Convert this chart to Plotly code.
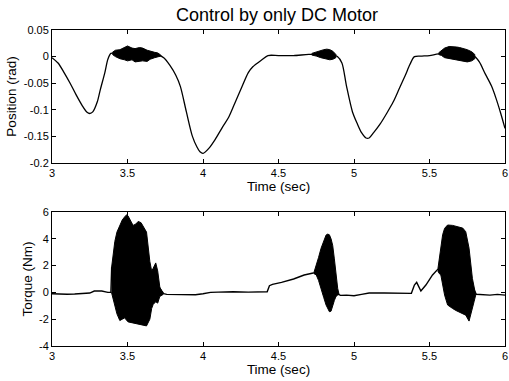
import plotly.graph_objects as go
from plotly.subplots import make_subplots

# ---------------- data ----------------
# Position (rad) main trace
pos_t = [3.00, 3.04, 3.08, 3.12, 3.16, 3.20, 3.23, 3.25, 3.27, 3.30, 3.32, 3.35, 3.37, 3.39,
         3.42, 3.50, 3.60, 3.70, 3.74, 3.78, 3.82, 3.85, 3.89, 3.93, 3.96, 3.98, 4.00, 4.04,
         4.08, 4.13, 4.17, 4.21, 4.25, 4.30, 4.33, 4.39, 4.43, 4.50, 4.60, 4.70, 4.78, 4.85,
         4.89, 4.92, 4.95, 4.99, 5.02, 5.05, 5.08, 5.10, 5.13, 5.17, 5.22, 5.26, 5.30, 5.34,
         5.37, 5.40, 5.45, 5.50, 5.56, 5.65, 5.75, 5.80, 5.83, 5.87, 5.91, 5.94, 5.97, 6.00]
pos_y = [-0.002, -0.012, -0.030, -0.050, -0.072, -0.092, -0.104, -0.107, -0.104, -0.085,
         -0.062, -0.030, -0.005, 0.006, 0.006, 0.006, 0.004, 0.003, -0.002, -0.016, -0.035,
         -0.056, -0.104, -0.150, -0.170, -0.179, -0.182, -0.172, -0.156, -0.132, -0.114,
         -0.088, -0.062, -0.030, -0.019, -0.006, 0.002, 0.002, 0.002, 0.004, 0.004, 0.004,
         0.000, -0.012, -0.055, -0.104, -0.125, -0.143, -0.153, -0.153, -0.143, -0.128,
         -0.105, -0.085, -0.060, -0.035, -0.015, 0.000, 0.001, 0.002, 0.005, 0.006, 0.003,
         0.000, -0.010, -0.033, -0.055, -0.078, -0.105, -0.135]

# Position oscillation envelopes (upper / lower)
pos_b1_t = [3.40, 3.42, 3.45, 3.48, 3.50, 3.53, 3.55, 3.58, 3.60, 3.63, 3.65, 3.68, 3.70, 3.72]
pos_b1_hi = [0.008, 0.012, 0.013, 0.017, 0.020, 0.016, 0.015, 0.017, 0.016, 0.012, 0.010, 0.008, 0.007, 0.003]
pos_b1_lo = [0.004, 0.000, -0.004, -0.006, -0.008, -0.006, -0.010, -0.009, -0.008, -0.009, -0.005, -0.002, 0.000, 0.001]

pos_b2_t = [4.72, 4.75, 4.78, 4.80, 4.82, 4.84, 4.86, 4.88]
pos_b2_hi = [0.006, 0.009, 0.011, 0.013, 0.014, 0.013, 0.010, 0.004]
pos_b2_lo = [0.003, 0.001, -0.002, -0.004, -0.005, -0.006, -0.005, -0.002]

pos_b3_t = [5.56, 5.58, 5.60, 5.63, 5.65, 5.68, 5.70, 5.73, 5.75, 5.78, 5.80]
pos_b3_hi = [0.007, 0.011, 0.016, 0.019, 0.019, 0.018, 0.017, 0.015, 0.013, 0.009, 0.004]
pos_b3_lo = [0.004, 0.002, -0.002, -0.004, -0.005, -0.006, -0.008, -0.009, -0.010, -0.008, -0.004]

# Torque (Nm) main trace
tq_t = [3.00, 3.05, 3.10, 3.15, 3.20, 3.25, 3.28, 3.33, 3.37, 3.39, 3.395, 3.45, 3.50, 3.60,
        3.70, 3.74, 3.76, 3.85, 3.95, 4.00, 4.05, 4.10, 4.20, 4.30, 4.40, 4.425, 4.44, 4.46,
        4.52, 4.60, 4.67, 4.73, 4.80, 4.86, 4.89, 4.91, 4.95, 5.00, 5.05, 5.10, 5.20, 5.30,
        5.38, 5.40, 5.415, 5.443, 5.476, 5.52, 5.553, 5.65, 5.75, 5.81, 5.85, 5.90, 5.95, 6.00]
tq_y = [-0.10, -0.14, -0.14, -0.12, -0.10, -0.05, 0.10, 0.10, 0.00, 0.00, 1.8, 1.5, 1.7, 1.5,
        0.5, -0.10, -0.15, -0.15, -0.18, -0.10, 0.00, 0.02, 0.05, 0.02, 0.00, 0.05, 0.50, 0.60,
        0.75, 1.00, 1.30, 1.45, 1.50, 0.80, -0.10, -0.22, -0.20, -0.25, -0.15, -0.05, -0.05,
        -0.07, -0.07, 0.55, 0.75, 0.10, 0.55, 1.30, 1.70, 1.80, 1.20, -0.14, -0.15, -0.20,
        -0.15, -0.20]

# Torque oscillation envelopes
tq_b1_t = [3.394, 3.405, 3.416, 3.43, 3.449, 3.465, 3.482, 3.495, 3.504, 3.52, 3.537, 3.555,
           3.571, 3.59, 3.604, 3.626, 3.648, 3.66, 3.67, 3.687, 3.70, 3.714, 3.736]
tq_b1_hi = [1.8, 3.0, 3.8, 4.5, 5.0, 5.4, 5.65, 5.8, 5.7, 5.3, 5.0, 5.1, 5.3, 5.2, 4.9, 4.5,
            2.3, 1.6, 1.8, 2.2, 1.6, 0.4, -0.1]
tq_b1_lo = [0.0, -0.5, -0.94, -1.6, -2.1, -2.0, -1.9, -2.1, -2.2, -2.25, -2.3, -2.35, -2.4,
            -2.43, -2.45, -2.5, -2.0, -1.2, -0.9, -0.7, -0.8, -0.3, -0.15]

tq_b2_t = [4.735, 4.75, 4.765, 4.782, 4.80, 4.815, 4.826, 4.837, 4.848, 4.859, 4.87, 4.881, 4.892, 4.90]
tq_b2_hi = [1.5, 2.0, 2.6, 3.3, 3.9, 4.28, 4.35, 4.3, 4.0, 3.5, 2.5, 1.3, 0.3, -0.1]
tq_b2_lo = [1.4, 1.3, 0.9, 0.3, -0.4, -0.94, -1.2, -1.44, -1.4, -0.94, -0.6, -0.3, -0.2, -0.15]

tq_b3_t = [5.555, 5.565, 5.575, 5.587, 5.60, 5.62, 5.653, 5.675, 5.697, 5.72, 5.74, 5.762,
           5.784, 5.795, 5.806]
tq_b3_hi = [1.7, 2.6, 3.54, 4.3, 4.78, 5.03, 5.0, 4.95, 4.9, 4.8, 4.53, 3.3, 1.05, 0.3, -0.14]
tq_b3_lo = [1.6, 1.4, 1.3, 0.5, -0.2, -0.94, -1.2, -1.35, -1.44, -1.6, -1.7, -2.14, -1.2, -0.7, -0.2]

# Tick labels
x_ticks = [3, 3.5, 4, 4.5, 5, 5.5, 6]
x_ticktext = ["3", "3.5", "4", "4.5", "5", "5.5", "6"]
pos_ticks = [0.05, 0, -0.05, -0.1, -0.15, -0.2]
pos_ticktext = ["0.05", "0", "-0.05", "-0.1", "-0.15", "-0.2"]
tq_ticks = [6, 4, 2, 0, -2, -4]
tq_ticktext = ["6", "4", "2", "0", "-2", "-4"]

# ---------------- figure ----------------
W, H = 509, 381
mt, mb = 30, 35
ph = H - mt - mb
FONT = "Liberation Sans, Arial"

fig = make_subplots(rows=2, cols=1)

def band(t, hi, lo, row):
    fig.add_trace(go.Scatter(x=list(t) + list(t)[::-1], y=list(hi) + list(lo)[::-1],
                             fill="toself", fillcolor="black", mode="lines",
                             line=dict(color="black", width=1), hoverinfo="skip",
                             showlegend=False), row=row, col=1)

fig.add_trace(go.Scatter(x=pos_t, y=pos_y, mode="lines",
                         line=dict(color="black", width=1.3, shape="spline", smoothing=0.8),
                         showlegend=False), row=1, col=1)
band(pos_b1_t, pos_b1_hi, pos_b1_lo, 1)
band(pos_b2_t, pos_b2_hi, pos_b2_lo, 1)
band(pos_b3_t, pos_b3_hi, pos_b3_lo, 1)

fig.add_trace(go.Scatter(x=tq_t, y=tq_y, mode="lines",
                         line=dict(color="black", width=1.4),
                         showlegend=False), row=2, col=1)
band(tq_b1_t, tq_b1_hi, tq_b1_lo, 2)
band(tq_b2_t, tq_b2_hi, tq_b2_lo, 2)
band(tq_b3_t, tq_b3_hi, tq_b3_lo, 2)

axis_common = dict(showline=True, linecolor="black", linewidth=1, mirror="ticks",
                   ticks="inside", ticklen=4, tickcolor="black", showgrid=False,
                   zeroline=False, automargin=False,
                   tickfont=dict(family=FONT, size=11, color="black"))
title_font = dict(size=13.5, family=FONT, color="black")

fig.update_layout(
    width=W, height=H,
    margin=dict(l=52, r=4, t=mt, b=mb),
    paper_bgcolor="white", plot_bgcolor="white",
    font=dict(family=FONT, color="black"),
    title=dict(text="Control by only DC Motor", x=277 / W,
               xanchor="center", y=1 - 15 / H, yanchor="middle",
               font=dict(size=18, family=FONT, color="black")),
    xaxis=dict(domain=[0, 1], range=[3, 6], tickvals=x_ticks, ticktext=x_ticktext,
               title=dict(text="Time (sec)", standoff=1, font=title_font),
               **axis_common),
    yaxis=dict(domain=[(H - mb - 163) / ph, 1], range=[-0.2, 0.05],
               tickvals=pos_ticks, ticktext=pos_ticktext,
               title=dict(text="Position (rad)", standoff=3, font=title_font),
               **axis_common),
    xaxis2=dict(domain=[0, 1], range=[3, 6], tickvals=x_ticks, ticktext=x_ticktext,
                title=dict(text="Time (sec)", standoff=1, font=title_font),
                **axis_common),
    yaxis2=dict(domain=[0, (H - mb - 212) / ph], range=[-4, 6],
                tickvals=tq_ticks, ticktext=tq_ticktext,
                title=dict(text="Torque (Nm)", standoff=3, font=title_font),
                **axis_common),
)

fig.write_html("out.html")
